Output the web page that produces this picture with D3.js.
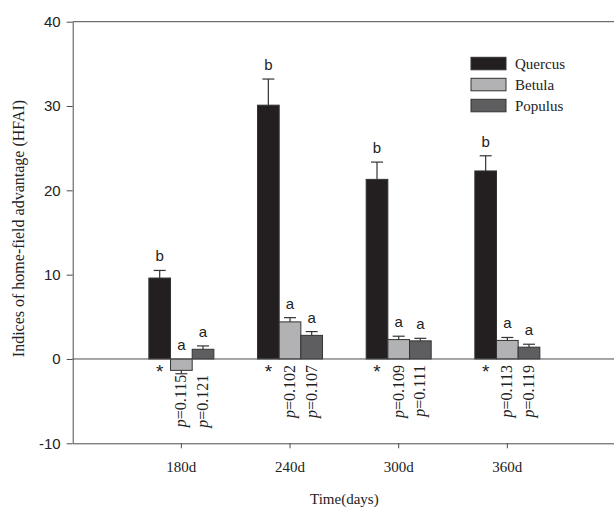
<!DOCTYPE html>
<html>
<head>
<meta charset="utf-8">
<script src="https://cdn.jsdelivr.net/npm/d3@7"></script>
<style>
  body { margin: 0; background: #fff; }
  svg { display: block; }
</style>
</head>
<body>
<div id="chart"></div>
<script>
// data
const categories = ['180d', '240d', '300d', '360d'];
const seriesNames = ['Quercus', 'Betula', 'Populus'];
const quercus = [9.6, 30.1, 21.3, 22.3];
const quercusErr = [0.9, 3.1, 2.05, 1.8];
const betula = [-1.35, 4.4, 2.3, 2.2];
const betulaErr = [0.4, 0.5, 0.4, 0.35];
const populus = [1.15, 2.8, 2.15, 1.4];
const populusErr = [0.4, 0.45, 0.3, 0.35];
const letters = ['b', 'a', 'a'];            // per series
const pBetula = ['0.115', '0.102', '0.109', '0.113'];
const pPopulus = ['0.121', '0.107', '0.111', '0.119'];
const yTicks = [-10, 0, 10, 20, 30, 40];

const colors = {Quercus: '#231f20', Betula: '#b2b2b4', Populus: '#5e5e60'};

// long format table for drawing
const values = [quercus, betula, populus];
const errs = [quercusErr, betulaErr, populusErr];
const pvals = [null, pBetula, pPopulus];
const rows = [];
categories.forEach((c, i) => {
  seriesNames.forEach((s, j) => {
    rows.push({cat: c, series: s, value: values[j][i], err: errs[j][i],
               letter: letters[j], p: pvals[j] ? pvals[j][i] : null});
  });
});

const width = 614, height = 509;
const margin = {top: 21.7, left: 72.7, bottom: 66};
const plotRight = 616;

const svg = d3.select('#chart').append('svg')
  .attr('width', width).attr('height', height);

const x = d3.scaleBand().domain(categories)
  .range([margin.left, plotRight]).paddingInner(0).paddingOuter(0.5);
const xs = d3.scaleBand().domain(seriesNames).range([-32.5, 32.5]);
const y = d3.scaleLinear().domain([-10, 40]).range([443.3, margin.top]);

const axisColor = '#4d4d4d';

// frame line at the top
svg.append('line').attr('x1', margin.left).attr('x2', plotRight)
  .attr('y1', y(40)).attr('y2', y(40)).attr('stroke', axisColor);

// y axis (plain hyphen for negatives, like the figure)
const yAxis = svg.append('g').attr('transform', `translate(${margin.left},0)`)
  .call(d3.axisLeft(y).tickValues(yTicks).tickFormat(d => String(d))
    .tickSize(6).tickSizeOuter(0).tickPadding(6));
yAxis.selectAll('path, line').attr('stroke', axisColor);
yAxis.selectAll('text').style('font-family', 'Liberation Sans, Arial, sans-serif')
  .style('font-size', '15px').attr('fill', '#222');

// x axis
const xAxis = svg.append('g').attr('transform', `translate(0,${y(-10)})`)
  .call(d3.axisBottom(x).tickSize(5).tickSizeOuter(0).tickPadding(13));
xAxis.selectAll('path, line').attr('stroke', axisColor);
xAxis.selectAll('text').style('font-family', 'Liberation Serif, Times New Roman, serif')
  .style('font-size', '15px').attr('fill', '#222');

// bars
const cx = d => x(d.cat) + x.bandwidth() / 2 + xs(d.series);
svg.append('g').selectAll('rect').data(rows).join('rect')
  .attr('x', cx)
  .attr('width', xs.bandwidth())
  .attr('y', d => y(Math.max(0, d.value)))
  .attr('height', d => Math.abs(y(d.value) - y(0)))
  .attr('fill', d => colors[d.series])
  .attr('stroke', '#333').attr('stroke-width', 1);

// zero line
svg.append('line').attr('x1', margin.left).attr('x2', plotRight)
  .attr('y1', y(0)).attr('y2', y(0)).attr('stroke', axisColor);

// error bars (one-sided, away from zero)
const tip = d => d.value >= 0 ? d.value + d.err : d.value - d.err;
const capW = 12;
const eb = svg.append('g').attr('stroke', '#333').attr('stroke-width', 1.2);
eb.selectAll('.stem').data(rows).join('line').attr('class', 'stem')
  .attr('x1', d => cx(d) + xs.bandwidth() / 2).attr('x2', d => cx(d) + xs.bandwidth() / 2)
  .attr('y1', d => y(d.value)).attr('y2', d => y(tip(d)));
eb.selectAll('.cap').data(rows).join('line').attr('class', 'cap')
  .attr('x1', d => cx(d) + xs.bandwidth() / 2 - capW / 2)
  .attr('x2', d => cx(d) + xs.bandwidth() / 2 + capW / 2)
  .attr('y1', d => y(tip(d))).attr('y2', d => y(tip(d)));

// significance letters above bars
svg.append('g').selectAll('text').data(rows).join('text')
  .attr('x', d => cx(d) + xs.bandwidth() / 2)
  .attr('y', d => y(Math.max(0, tip(d))) - 9)
  .attr('text-anchor', 'middle')
  .style('font-family', 'Liberation Sans, Arial, sans-serif')
  .style('font-size', '15px').attr('fill', '#222')
  .text(d => d.letter);

// stars under Quercus bars
svg.append('g').selectAll('text').data(rows.filter(d => d.series === 'Quercus')).join('text')
  .attr('x', d => cx(d) + xs.bandwidth() / 2)
  .attr('y', y(0) + 19)
  .attr('text-anchor', 'middle')
  .style('font-family', 'Liberation Sans, Arial, sans-serif')
  .style('font-size', '19px').attr('fill', '#222')
  .text('*');

// rotated p-values
const groupLow = {};
categories.forEach(c => {
  const lows = rows.filter(d => d.cat === c).map(d => y(Math.min(0, tip(d))));
  groupLow[c] = Math.max(y(0) + 6, d3.max(lows) + 1);
});
const pl = svg.append('g').selectAll('text').data(rows.filter(d => d.p)).join('text')
  .attr('transform', d => `translate(${cx(d) + xs.bandwidth() / 2 + 5},${groupLow[d.cat]}) rotate(-90)`)
  .attr('text-anchor', 'end')
  .style('font-family', 'Liberation Serif, Times New Roman, serif')
  .style('font-size', '16px').attr('fill', '#222');
pl.append('tspan').style('font-style', 'italic').text('p');
pl.append('tspan').text(d => '=' + d.p);

// axis titles
svg.append('text')
  .attr('transform', `translate(24,${(y(40) + y(-10)) / 2 - 4}) rotate(-90)`)
  .attr('text-anchor', 'middle')
  .style('font-family', 'Liberation Serif, Times New Roman, serif')
  .style('font-size', '16px').attr('fill', '#222')
  .text('Indices of home-field advantage (HFAI)');

svg.append('text')
  .attr('x', (margin.left + plotRight) / 2).attr('y', 504)
  .attr('text-anchor', 'middle')
  .style('font-family', 'Liberation Serif, Times New Roman, serif')
  .style('font-size', '15px').attr('fill', '#222')
  .text('Time(days)');

// legend
const legend = svg.append('g').attr('transform', 'translate(471,57.3)');
const li = legend.selectAll('g').data(seriesNames).join('g')
  .attr('transform', (d, i) => `translate(0,${i * 21})`);
li.append('rect').attr('width', 35).attr('height', 12.5)
  .attr('fill', d => colors[d]).attr('stroke', '#333');
li.append('text').attr('x', 44).attr('y', 11.5)
  .style('font-family', 'Liberation Serif, Times New Roman, serif')
  .style('font-size', '15px').attr('fill', '#222')
  .text(d => d);
</script>
</body>
</html>
